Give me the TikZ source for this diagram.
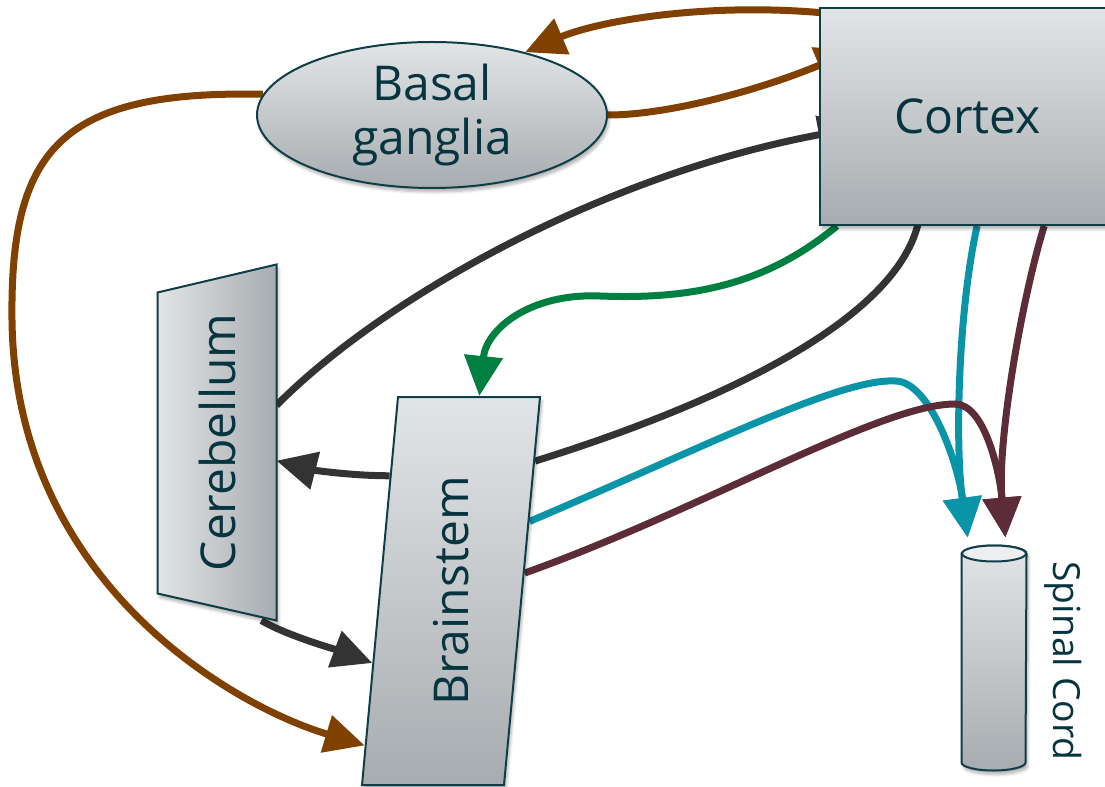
\documentclass[tikz,border=0pt]{standalone}
\usepackage{fontspec}
\setmainfont{Open Sans}
\usetikzlibrary{arrows.meta,shapes.geometric,shadows.blur}

\definecolor{nodeline}{HTML}{0F3E47}
\definecolor{nodetext}{HTML}{06343F}
\definecolor{shadelight}{HTML}{E2E5E7}
\definecolor{shadedark}{HTML}{A7ACB0}
\definecolor{cordtop}{HTML}{ECEEF0}
\definecolor{tractbrown}{HTML}{7F4000}
\definecolor{tractgray}{HTML}{333333}
\definecolor{tractgreen}{HTML}{008040}
\definecolor{tractteal}{HTML}{0A94A8}
\definecolor{tractmaroon}{HTML}{5C2D38}

\pgfdeclarelayer{background}
\pgfsetlayers{background,main}

\tikzset{every picture/.style={line width=0.75pt}}
\tikzset{
  region/.style={draw=nodeline, line width=1.5pt, text=nodetext, top color=shadelight, bottom color=shadedark,
    font=\fontsize{36}{41}\selectfont, inner sep=0pt,
    blur shadow={shadow xshift=1.5pt, shadow yshift=-3pt, shadow opacity=30, shadow blur steps=6}},
  regionlabel/.style={text=nodetext, font=\fontsize{36}{41}\selectfont, inner sep=0pt},
  cordlabel/.style={text=nodetext, font=\fontsize{28}{34}\selectfont, inner sep=0pt},
  tract/.style={line width=5.25pt, -{Triangle[length=30pt,width=28pt]}},
  intocortex/.style={shorten >=-30pt},
  tospinal/.style={shorten >=12pt},
}

\begin{document}
\begin{tikzpicture}[x=0.75pt,y=0.75pt,yscale=-1,xscale=1]
\useasboundingbox (0,0) rectangle (1105,787);

% Regions
\node[region, minimum width=221.25pt, minimum height=162.75pt] (cortex) at (967.5,116.5) {Cortex};
\node[region, ellipse, align=center, minimum width=262.5pt, minimum height=109.5pt] (basal) at (432,115) {Basal\\ganglia};

% Cerebellum (trapezoid drawn on the node's corners)
\node[minimum width=88.5pt, minimum height=266.25pt, inner sep=0pt] (cerebellum) at (217,442.5) {};
\path[region, left color=shadelight, right color=shadedark] (cerebellum.north east) -- (cerebellum.south east)
  -- ([yshift=-20.25pt]cerebellum.south west) -- ([yshift=21pt]cerebellum.north west) -- cycle;
\node[regionlabel, rotate=90] (cerebellumlabel) at (cerebellum.center) {Cerebellum};

% Brainstem
\node[region, xslant=0.0928, minimum width=106.5pt, minimum height=291pt] (brainstem) at (451,591) {};
\node[regionlabel, rotate=90] (brainstemlabel) at (brainstem.center) {Brainstem};

% Spinal cord
\node[minimum width=48pt, minimum height=156pt, inner sep=0pt] (spinal) at (994,658) {};
\path[region] (spinal.north west) -- (spinal.south west) arc[start angle=180, end angle=0, x radius=32, y radius=8]
  -- (spinal.north east) arc[start angle=0, end angle=-180, x radius=32, y radius=8] -- cycle;
\draw[draw=nodeline, line width=1.5pt, fill=cordtop] (spinal.north) ellipse[x radius=32, y radius=8];
\node[cordlabel, rotate=-90] (spinallabel) at (1063,661) {Spinal Cord};

\begin{pgfonlayer}{background}
% basal ganglia loop
\draw[tract, tractbrown] (cortex.145) .. controls +(-120,-10) and +(70,-30) .. (basal.34);
\draw[tract, tractbrown, intocortex] (basal.east) .. controls +(60,0) and +(-60,25) .. (cortex.161);
\coordinate (bgbend) at (12,320);
\draw[tract, tractbrown] (basal.173) .. controls (60,90) and (10,150) .. (bgbend) .. controls (15,580) and (230,705) .. (brainstem.245);

% cerebellum
\draw[tract, tractgray, intocortex] (cerebellum.32) .. controls +(104,-105) and +(-220,41) .. (cortex.187);
\draw[tract, tractgray] (brainstem.122) .. controls +(-40,0) and +(35,9) .. (cerebellum.-17);
\draw[tract, tractgray] (cerebellum.-76) .. controls +(25,15) and +(-35,-13) .. (brainstem.225);
\draw[tract, tractgray, shorten >=-40pt] (brainstem.61) .. controls +(167,-52) and +(-10,95) .. (cortex.246);

% cortex to brainstem
\coordinate (greenbend) at (600,296);
\draw[tract, tractgreen] (cortex.220) .. controls +(-67,55) and +(100,4) .. (greenbend) .. controls +(-70,-3) and +(7,-67) .. (brainstem.87);

% to spinal cord
\draw[tract, tractteal, tospinal] (cortex.275) .. controls +(-19,85) and +(-15,-108) .. (spinal.103);
\coordinate (tealhump) at (895,381);
\draw[tract, tractteal, tospinal] (brainstem.44) .. controls +(172,-73) and +(-55,-3) .. (tealhump) .. controls +(35,0) and +(-12,-90) .. (spinal.103);
\draw[tract, tractmaroon, tospinal] (cortex.305) .. controls +(-23,75) and +(-10,-110) .. (spinal.83);
\coordinate (maroonhump) at (955,404);
\draw[tract, tractmaroon, tospinal] (brainstem.14) .. controls +(177,-63) and +(-75,0) .. (maroonhump) .. controls +(30,0) and +(-7,-80) .. (spinal.83);
\end{pgfonlayer}

\end{tikzpicture}
\end{document}
